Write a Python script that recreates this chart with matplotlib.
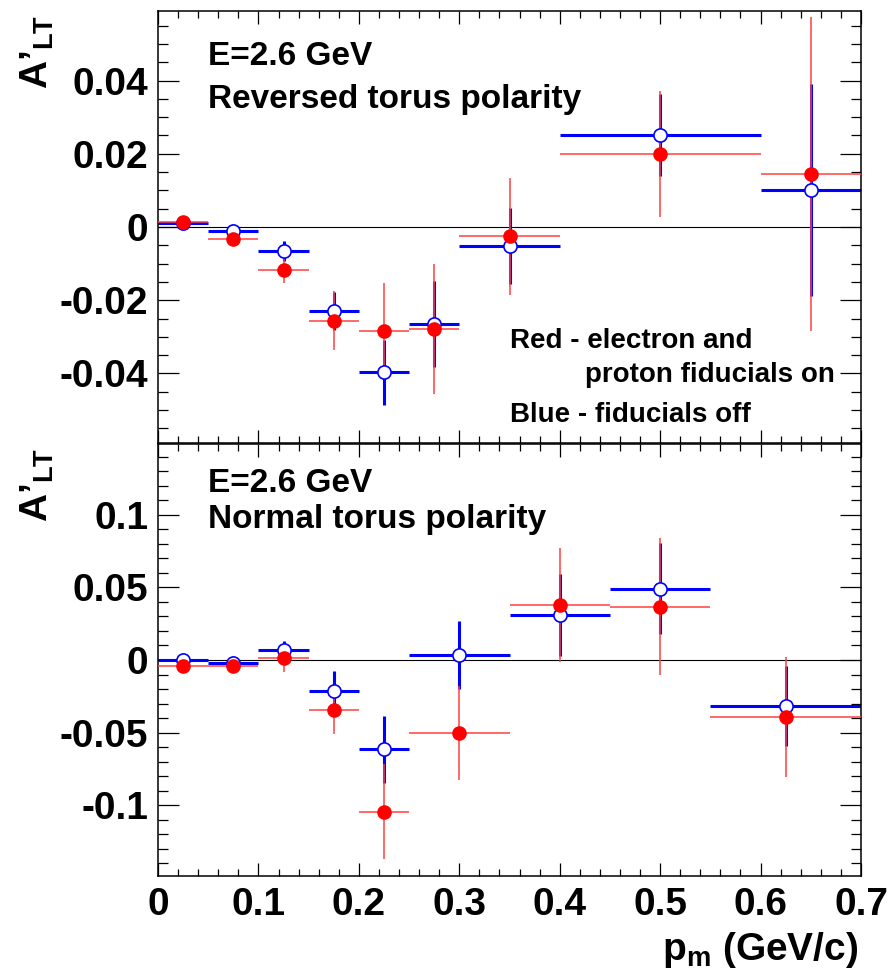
import matplotlib
matplotlib.use("Agg")
import matplotlib.pyplot as plt
from matplotlib.ticker import FixedLocator, MultipleLocator

plt.rcParams['font.family'] = ['Liberation Sans', 'DejaVu Sans']
plt.rcParams['font.weight'] = 'bold'
plt.rcParams['axes.unicode_minus'] = False
plt.rcParams['mathtext.fontset'] = 'custom'
plt.rcParams['mathtext.bf'] = 'Liberation Sans:bold'
plt.rcParams['mathtext.rm'] = 'Liberation Sans:bold'
plt.rcParams['mathtext.it'] = 'Liberation Sans:bold'

# reversed torus polarity, E = 2.6 GeV
rev_pm = [0.025, 0.075, 0.125, 0.175, 0.225, 0.275, 0.35, 0.5, 0.65]
rev_bin = [0.025, 0.025, 0.025, 0.025, 0.025, 0.025, 0.05, 0.1, 0.05]
rev_on = [0.0015, -0.0032, -0.0117, -0.0256, -0.0284, -0.0278, -0.0025, 0.0199, 0.0145]
rev_on_err = [0.0008, 0.001, 0.0037, 0.008, 0.013, 0.0178, 0.016, 0.0173, 0.0429]
rev_off = [0.0011, -0.001, -0.0065, -0.0229, -0.0397, -0.0265, -0.0052, 0.0251, 0.0101]
rev_off_err = [0.0008, 0.0008, 0.0028, 0.0052, 0.0088, 0.0117, 0.0105, 0.0111, 0.029]

# normal torus polarity, E = 2.6 GeV
norm_pm = [0.025, 0.075, 0.125, 0.175, 0.225, 0.3, 0.4, 0.5, 0.625]
norm_bin = [0.025, 0.025, 0.025, 0.025, 0.025, 0.05, 0.05, 0.05, 0.075]
norm_on = [-0.0039, -0.0041, 0.0016, -0.0344, -0.1043, -0.05, 0.0376, 0.0367, -0.039]
norm_on_err = [0.002, 0.002, 0.0098, 0.0166, 0.0329, 0.0323, 0.0393, 0.047, 0.0413]
norm_off = [0.0, -0.0023, 0.0067, -0.0211, -0.0614, 0.0034, 0.0307, 0.049, -0.0316]
norm_off_err = [0.0015, 0.0015, 0.0066, 0.0138, 0.0229, 0.0236, 0.0282, 0.0314, 0.0275]

x_ticks = [0, 0.1, 0.2, 0.3, 0.4, 0.5, 0.6, 0.7]
x_labels = ['0', '0.1', '0.2', '0.3', '0.4', '0.5', '0.6', '0.7']
rev_yticks = [-0.04, -0.02, 0, 0.02, 0.04]
rev_ylabels = ['-0.04', '-0.02', '0', '0.02', '0.04']
norm_yticks = [-0.1, -0.05, 0, 0.05, 0.1]
norm_ylabels = ['-0.1', '-0.05', '0', '0.05', '0.1']

W, H = 893, 972
fig = plt.figure(figsize=(W / 100, H / 100), dpi=100)
left, right = 158 / W, 861 / W
ax_top = fig.add_axes([left, 1 - 443 / H, right - left, 432 / H])
ax_bot = fig.add_axes([left, 1 - 876 / H, right - left, 432 / H])


def draw_panel(ax, pm, half, on, on_err, off, off_err):
    ax.axhline(0, color='black', lw=0.8, zorder=1)
    # error crosses first, markers afterwards so open circles stay clear
    ax.errorbar(pm, off, xerr=half, yerr=off_err, fmt='none', ecolor='blue',
                elinewidth=2.2, capsize=0, zorder=2)
    ax.errorbar(pm, on, xerr=half, yerr=on_err, fmt='none',
                ecolor=(1, 0.25, 0.25), elinewidth=1.1, capsize=0, zorder=3)
    ax.plot(pm, off, 'o', mfc='white', mec='blue', mew=1.2, ms=9.5, zorder=4)
    ax.plot(pm, on, 'o', color='red', ms=9.5, zorder=5)


def style_axes(ax, yticks, ylabels, ylim, yminor):
    ax.set_xlim(0, 0.7)
    ax.set_ylim(*ylim)
    ax.xaxis.set_major_locator(FixedLocator(x_ticks))
    ax.xaxis.set_minor_locator(MultipleLocator(0.02))
    ax.yaxis.set_major_locator(FixedLocator(yticks))
    ax.yaxis.set_minor_locator(MultipleLocator(yminor))
    ax.set_yticklabels(ylabels)
    ax.tick_params(axis='both', which='both', direction='in', top=True, right=True,
                   width=0.9, labelsize=28)
    ax.tick_params(axis='x', which='major', length=9.5, pad=8)
    ax.tick_params(axis='x', which='minor', length=4.7)
    ax.tick_params(axis='y', which='major', length=15, pad=7)
    ax.tick_params(axis='y', which='minor', length=7.5)
    for sp in ax.spines.values():
        sp.set_linewidth(1.1)
    ax.text(-0.171, 0.991, "A’$_{\\mathbf{LT}}$", transform=ax.transAxes,
            rotation=90, ha='center', va='top', fontsize=28)


draw_panel(ax_top, rev_pm, rev_bin, rev_on, rev_on_err, rev_off, rev_off_err)
style_axes(ax_top, rev_yticks, rev_ylabels, (-0.059, 0.059), 0.005)
ax_top.set_xticklabels([])

draw_panel(ax_bot, norm_pm, norm_bin, norm_on, norm_on_err, norm_off, norm_off_err)
style_axes(ax_bot, norm_yticks, norm_ylabels, (-0.1486, 0.1486), 0.01)
ax_bot.set_xticklabels(x_labels)

ax_top.text(0.071, 0.875, 'E=2.6 GeV', transform=ax_top.transAxes, fontsize=24,
            va='baseline')
ax_top.text(0.071, 0.775, 'Reversed torus polarity', transform=ax_top.transAxes,
            fontsize=24, va='baseline')
ax_top.text(0.5007, 0.22, 'Red - electron and', transform=ax_top.transAxes,
            fontsize=20, va='baseline')
ax_top.text(0.607, 0.141, 'proton fiducials on', transform=ax_top.transAxes,
            fontsize=20, va='baseline')
ax_top.text(0.5007, 0.0486, 'Blue - fiducials off', transform=ax_top.transAxes,
            fontsize=20, va='baseline')

ax_bot.text(0.071, 0.889, 'E=2.6 GeV', transform=ax_bot.transAxes, fontsize=24,
            va='baseline')
ax_bot.text(0.071, 0.806, 'Normal torus polarity', transform=ax_bot.transAxes,
            fontsize=24, va='baseline')

fig.text(858 / W, 1 - 960 / H, r"$\mathbf{p_m}$ (GeV/c)", ha='right',
         va='baseline', fontsize=28)

fig.savefig('out.png', dpi=100)
